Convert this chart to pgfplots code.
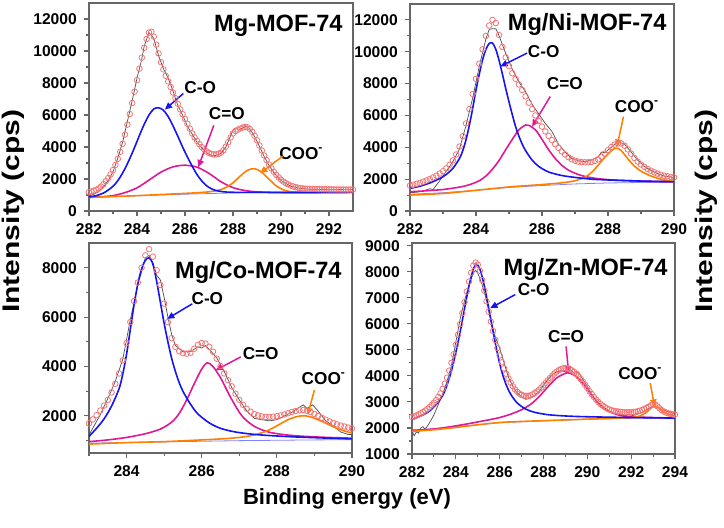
\documentclass[border=0pt]{standalone}
\usepackage{pgfplots}
\pgfplotsset{compat=1.18}
\usepackage{fontspec}
\setmainfont{Liberation Sans}
\usetikzlibrary{arrows.meta}
\definecolor{cblue}{RGB}{20,20,245}
\definecolor{cmag}{RGB}{222,25,150}
\definecolor{corange}{RGB}{255,128,0}
\definecolor{circ}{RGB}{245,115,115}
\definecolor{lav}{RGB}{130,130,255}
\pgfplotsset{
 panel/.style={scale only axis, axis line style={black!60, line width=0.7pt},
   tick style={black!60, line width=0.55pt}, tick align=outside,
   xtick pos=bottom, ytick pos=left, major tick length=2.6pt, minor tick length=1.5pt,
   tick label style={font=\fontsize{7.8}{8}\selectfont\bfseries},
   /pgf/number format/assume math mode=true, /pgf/number format/1000 sep={},
   scaled ticks=false, clip=true, minor x tick num=1},
 raw/.style={black!70, line width=0.35pt, no marks},
 env/.style={only marks, mark=o, mark size=1.4pt, mark options={draw=circ, line width=0.4pt}},
 comp/.style={line width=0.8pt, no marks, smooth, tension=0.5},
 base/.style={lav, line width=0.4pt, no marks},
}
\tikzset{ann/.style={font=\fontsize{8.6}{10}\selectfont\bfseries, inner sep=0pt},
  ttl/.style={font=\fontsize{11.8}{13}\selectfont\bfseries, inner sep=0pt, anchor=base east},
  arr/.style={line width=0.75pt, -{Triangle[length=3.6pt,width=3.2pt]}}}
\begin{document}
\begin{tikzpicture}
\path[use as bounding box] (0,0) rectangle (362pt,263.5pt);
% ---------------- Panel 1 ----------------
\begin{axis}[panel, at={(44.5pt,158pt)}, anchor=south west, width=132pt, height=104pt,
  xmin=282, xmax=293, ymin=0, ymax=13000, xtick={282,284,...,292},
  ytick={0,2000,...,12000}, minor y tick num=1]
\addplot[raw] coordinates {(282.0,950)(282.2,1050)(282.4,1200)(282.6,1500)(282.8,1900)(283.0,2450)(283.2,3300)(283.4,4300)(283.6,5600)(283.8,6900)(284.0,8300)(284.2,9500)(284.3,10300)(284.5,11150)(284.7,10800)(284.9,9700)(285.1,8900)(285.3,8300)(285.5,7500)(285.7,6600)(285.9,6000)(286.1,5300)(286.3,4800)(286.5,4300)(286.7,3950)(286.9,3650)(287.1,3480)(287.3,3470)(287.5,3600)(287.7,4000)(287.9,4700)(288.0,5050)(288.1,5150)(288.3,5100)(288.5,5300)(288.7,5150)(288.9,4650)(289.1,4050)(289.3,3400)(289.5,2850)(289.7,2400)(289.9,2050)(290.1,1800)(290.4,1550)(290.8,1420)(291.2,1360)(291.6,1350)(292.0,1330)(292.5,1340)(293.0,1330)};
\addplot[env] coordinates {(282.0,1180)(282.1,1220)(282.2,1270)(282.3,1330)(282.4,1420)(282.5,1530)(282.6,1680)(282.7,1860)(282.8,2060)(282.9,2290)(283.0,2560)(283.1,2880)(283.2,3260)(283.3,3700)(283.4,4200)(283.5,4780)(283.6,5400)(283.7,6060)(283.8,6750)(283.9,7460)(284.0,8180)(284.1,8900)(284.2,9580)(284.3,10200)(284.4,10750)(284.5,11150)(284.6,11200)(284.7,10900)(284.8,10400)(284.9,9850)(285.0,9300)(285.1,8850)(285.2,8450)(285.3,8100)(285.4,7750)(285.5,7400)(285.6,7050)(285.7,6700)(285.8,6350)(285.9,6050)(286.0,5750)(286.1,5450)(286.2,5150)(286.3,4850)(286.4,4600)(286.5,4380)(286.6,4180)(286.7,4000)(286.8,3850)(286.9,3720)(287.0,3630)(287.1,3570)(287.2,3540)(287.3,3540)(287.4,3570)(287.5,3650)(287.6,3800)(287.7,4020)(287.8,4300)(287.9,4600)(288.0,4850)(288.1,5000)(288.2,5080)(288.3,5150)(288.4,5220)(288.5,5250)(288.6,5230)(288.7,5130)(288.8,4950)(288.9,4700)(289.0,4420)(289.1,4100)(289.2,3780)(289.3,3470)(289.4,3180)(289.5,2910)(289.6,2670)(289.7,2450)(289.8,2260)(289.9,2100)(290.0,1960)(290.1,1840)(290.2,1740)(290.3,1660)(290.4,1590)(290.5,1540)(290.6,1490)(290.7,1460)(290.8,1430)(290.9,1410)(291.0,1395)(291.1,1390)(291.2,1385)(291.3,1380)(291.4,1375)(291.5,1370)(291.6,1365)(291.7,1360)(291.8,1358)(291.9,1355)(292.0,1352)(292.1,1350)(292.2,1348)(292.3,1346)(292.4,1345)(292.5,1344)(292.6,1343)(292.7,1342)(292.8,1341)(292.9,1340)(293.0,1340)};
\addplot[base] coordinates {(282,870)(284,950)(286,1050)(288,1130)(290,1160)(293,1160)};
\addplot[comp, cmag] coordinates {(282.0,850)(282.5,890)(283.0,960)(283.5,1150)(284.0,1450)(284.5,1930)(285.0,2430)(285.5,2760)(286.0,2860)(286.5,2740)(287.0,2350)(287.5,1830)(288.0,1460)(288.5,1280)(289.0,1200)(290.0,1160)(293.0,1160)};
\addplot[comp, corange] coordinates {(282.0,850)(283.0,900)(284.0,960)(285.0,1030)(286.0,1100)(286.5,1140)(287.0,1200)(287.4,1300)(287.7,1470)(288.0,1760)(288.3,2180)(288.6,2540)(288.9,2650)(289.2,2420)(289.5,1990)(289.8,1570)(290.1,1320)(290.4,1210)(290.8,1170)(291.5,1160)(293.0,1160)};
\addplot[comp, cblue] coordinates {(282.0,880)(282.3,960)(282.6,1120)(282.9,1420)(283.1,1700)(283.3,2120)(283.5,2650)(283.7,3280)(283.9,3980)(284.1,4720)(284.3,5420)(284.5,6000)(284.7,6380)(284.9,6450)(285.1,6300)(285.3,5900)(285.5,5320)(285.7,4680)(285.9,4000)(286.1,3380)(286.3,2800)(286.5,2280)(286.7,1880)(286.9,1580)(287.1,1390)(287.3,1280)(287.6,1200)(288.0,1170)(289.0,1160)(293.0,1160)};
\node[ttl] at (rel axis cs:0.962,0.861) {Mg-MOF-74};
\node[ann] at (axis cs:286.63,7710) {C-O};
\draw[arr, cblue] (axis cs:285.93,7340) -- (axis cs:285.16,6340);
\node[ann] at (axis cs:287.74,6090) {C=O};
\draw[arr, cmag] (axis cs:287.2,5350) -- (axis cs:286.55,2740);
\node[ann] at (axis cs:290.85,3600) {COO\textsuperscript{-}};
\draw[arr, corange] (axis cs:290.07,3420) -- (axis cs:289.13,2360);
\end{axis}
% ---------------- Panel 2 ----------------
\begin{axis}[panel, at={(205pt,158pt)}, anchor=south west, width=132pt, height=103.5pt,
  xmin=282, xmax=290, ymin=0, ymax=13000, xtick={282,284,...,290},
  ytick={0,2000,...,12000}, minor y tick num=1]
\addplot[raw] coordinates {(282.0,1150)(282.2,1180)(282.4,1250)(282.6,1400)(282.7,1350)(282.9,1900)(283.1,2500)(283.3,3100)(283.5,3900)(283.7,5400)(283.9,7100)(284.1,9100)(284.3,10800)(284.4,11400)(284.5,11450)(284.6,11450)(284.7,11000)(284.9,9900)(285.1,8900)(285.3,8100)(285.5,7500)(285.7,6700)(285.9,6100)(286.1,5500)(286.3,5000)(286.5,4200)(286.7,3700)(286.9,3300)(287.1,3150)(287.3,3100)(287.5,3200)(287.7,3400)(287.8,3700)(287.9,3650)(288.1,4000)(288.3,4350)(288.5,4200)(288.7,3700)(288.9,3200)(289.1,2800)(289.3,2550)(289.5,2350)(289.7,2200)(290.0,2100)};
\addplot[env] coordinates {(282.0,1600)(282.1,1650)(282.2,1710)(282.3,1770)(282.4,1840)(282.5,1920)(282.6,2010)(282.7,2110)(282.8,2220)(282.9,2350)(283.0,2500)(283.1,2680)(283.2,2900)(283.3,3180)(283.4,3550)(283.5,4050)(283.6,4700)(283.7,5500)(283.8,6400)(283.9,7350)(284.0,8300)(284.1,9250)(284.2,10150)(284.3,11000)(284.4,11650)(284.5,12000)(284.6,11800)(284.7,11050)(284.8,10300)(284.9,9650)(285.0,9100)(285.1,8650)(285.2,8300)(285.3,7950)(285.4,7600)(285.5,7200)(285.6,6800)(285.7,6400)(285.8,6000)(285.9,5650)(286.0,5300)(286.1,5000)(286.2,4720)(286.3,4460)(286.4,4200)(286.5,3960)(286.6,3740)(286.7,3550)(286.8,3380)(286.9,3250)(287.0,3160)(287.1,3100)(287.2,3070)(287.3,3060)(287.4,3060)(287.5,3080)(287.6,3140)(287.7,3240)(287.8,3400)(287.9,3600)(288.0,3820)(288.1,4020)(288.2,4170)(288.3,4250)(288.4,4240)(288.5,4100)(288.6,3870)(288.7,3600)(288.8,3330)(288.9,3100)(289.0,2920)(289.1,2770)(289.2,2640)(289.3,2530)(289.4,2430)(289.5,2350)(289.6,2280)(289.7,2220)(289.8,2180)(289.9,2140)(290.0,2110)};
\addplot[base] coordinates {(282,1050)(283,1150)(284,1300)(285,1480)(286,1600)(287,1700)(288,1760)(289,1790)(290,1800)};
\addplot[comp, cmag] coordinates {(282.0,1210)(282.5,1270)(283.0,1350)(283.5,1500)(283.8,1650)(284.1,1900)(284.3,2200)(284.5,2630)(284.7,3180)(284.9,3850)(285.1,4500)(285.3,5100)(285.5,5400)(285.6,5380)(285.8,5100)(286.0,4500)(286.2,3850)(286.4,3300)(286.6,2870)(286.8,2570)(287.0,2370)(287.3,2170)(287.7,2030)(288.2,1940)(289.0,1880)(290.0,1840)};
\addplot[comp, corange] coordinates {(282.0,1000)(283.0,1100)(284.0,1300)(285.0,1510)(286.0,1660)(286.6,1770)(287.0,1900)(287.3,2120)(287.5,2420)(287.7,2870)(287.9,3370)(288.1,3780)(288.25,3950)(288.4,3800)(288.6,3280)(288.8,2820)(289.0,2500)(289.3,2200)(289.6,2000)(290.0,1850)};
\addplot[comp, cblue] coordinates {(282.0,1420)(282.3,1560)(282.6,1760)(282.9,2040)(283.1,2300)(283.3,2680)(283.5,3300)(283.6,3800)(283.7,4500)(283.8,5400)(283.9,6450)(284.0,7600)(284.1,8600)(284.2,9500)(284.3,10150)(284.4,10520)(284.5,10550)(284.6,10150)(284.7,9450)(284.8,8600)(284.9,7700)(285.0,6850)(285.1,6050)(285.2,5300)(285.3,4700)(285.4,4200)(285.5,3800)(285.7,3200)(285.9,2800)(286.2,2450)(286.6,2230)(287.0,2110)(287.5,2000)(288.0,1950)(289.0,1880)(290.0,1840)};
\node[ttl] at (rel axis cs:0.973,0.870) {Mg/Ni-MOF-74};
\node[ann] at (axis cs:286.05,10020) {C-O};
\draw[arr, cblue] (axis cs:285.55,9920) -- (axis cs:284.74,9080);
\node[ann] at (axis cs:286.69,8030) {C=O};
\draw[arr, cmag] (axis cs:286.25,7190) -- (axis cs:285.7,5300);
\node[ann] at (axis cs:288.88,6560) {COO\textsuperscript{-}};
\draw[arr, corange] (axis cs:288.47,5930) -- (axis cs:288.27,4040);
\end{axis}
% ---------------- Panel 3 ----------------
\begin{axis}[panel, at={(44.5pt,37pt)}, anchor=south west, width=131.5pt, height=105pt,
  xmin=283, xmax=290, ymin=500, ymax=9000, xtick={284,286,288,290},
  minor xtick={283,285,287,289}, ytick={2000,4000,6000,8000}, minor ytick={1000,3000,5000,7000}]
\addplot[raw] coordinates {(283.0,1230)(283.1,1500)(283.3,2050)(283.5,2700)(283.7,3400)(283.9,4300)(284.1,5900)(284.3,7300)(284.5,8400)(284.6,8500)(284.7,8200)(284.8,7700)(284.9,7500)(285.0,6800)(285.1,6000)(285.2,5300)(285.3,4850)(285.5,4600)(285.7,4600)(285.9,4800)(286.0,4750)(286.1,4850)(286.2,4700)(286.4,4350)(286.6,3800)(286.8,3150)(287.0,2650)(287.2,2200)(287.4,1900)(287.6,1850)(287.8,1800)(288.0,1850)(288.2,2000)(288.4,2150)(288.6,2350)(288.7,2450)(288.8,2300)(288.95,2450)(289.1,2200)(289.3,1800)(289.5,1600)(289.7,1350)(289.9,1250)(290.0,1250)};
\addplot[env] coordinates {(283.0,1700)(283.1,1860)(283.2,2030)(283.3,2220)(283.4,2420)(283.5,2650)(283.6,2950)(283.7,3300)(283.8,3720)(283.9,4250)(284.0,4950)(284.1,5800)(284.2,6650)(284.3,7400)(284.4,8000)(284.5,8500)(284.6,8750)(284.7,8450)(284.8,7900)(284.9,7300)(285.0,6550)(285.1,5800)(285.2,5150)(285.3,4800)(285.4,4620)(285.5,4540)(285.6,4520)(285.7,4560)(285.8,4720)(285.9,4880)(286.0,4950)(286.1,4930)(286.2,4800)(286.3,4600)(286.4,4320)(286.5,4020)(286.6,3720)(286.7,3450)(286.8,3200)(286.9,2900)(287.0,2650)(287.1,2450)(287.2,2290)(287.3,2170)(287.4,2080)(287.5,2020)(287.6,1980)(287.7,1960)(287.8,1960)(287.9,1970)(288.0,1990)(288.1,2020)(288.2,2060)(288.3,2110)(288.4,2160)(288.5,2200)(288.6,2230)(288.7,2240)(288.8,2210)(288.9,2160)(289.0,2080)(289.1,2000)(289.2,1920)(289.3,1850)(289.4,1780)(289.5,1720)(289.6,1660)(289.7,1610)(289.8,1570)(289.9,1530)(290.0,1500)};
\addplot[base] coordinates {(283,900)(285,950)(287,1000)(289,1030)(290,1040)};
\addplot[comp, cmag] coordinates {(283.0,960)(283.5,1030)(284.0,1130)(284.5,1280)(284.9,1470)(285.2,1750)(285.4,2100)(285.6,2650)(285.8,3300)(286.0,3900)(286.15,4150)(286.3,4000)(286.5,3550)(286.7,2950)(286.9,2400)(287.1,1950)(287.4,1580)(287.8,1340)(288.4,1210)(289.2,1140)(290.0,1100)};
\addplot[comp, corange] coordinates {(283.0,860)(284.0,920)(285.0,960)(286.0,1030)(286.8,1100)(287.3,1200)(287.7,1370)(288.0,1600)(288.3,1850)(288.5,1960)(288.7,2010)(288.9,1960)(289.2,1780)(289.5,1560)(289.8,1390)(290.0,1310)};
\addplot[comp, cblue] coordinates {(283.0,1170)(283.2,1500)(283.4,1880)(283.6,2400)(283.8,3100)(283.9,3700)(284.0,4500)(284.1,5500)(284.2,6500)(284.3,7350)(284.4,7950)(284.5,8300)(284.6,8400)(284.7,8150)(284.8,7450)(284.9,6600)(285.0,5750)(285.1,5000)(285.2,4330)(285.3,3800)(285.4,3350)(285.5,3000)(285.7,2480)(285.9,2080)(286.2,1720)(286.5,1500)(286.9,1350)(287.5,1240)(288.5,1150)(290.0,1070)};
\node[ttl] at (rel axis cs:0.962,0.833) {Mg/Co-MOF-74};
\node[ann] at (axis cs:286.15,6740) {C-O};
\draw[arr, cblue] (axis cs:285.75,6540) -- (axis cs:285.08,5930);
\node[ann] at (axis cs:287.57,4530) {C=O};
\draw[arr, cmag] (axis cs:287.04,4390) -- (axis cs:286.37,3850);
\node[ann] at (axis cs:289.25,3520) {COO\textsuperscript{-}};
\draw[arr, corange] (axis cs:289.0,3050) -- (axis cs:288.82,2040);
\end{axis}
% ---------------- Panel 4 ----------------
\begin{axis}[panel, at={(206pt,36.5pt)}, anchor=south west, width=131.5pt, height=105.5pt,
  xmin=282, xmax=294, ymin=1000, ymax=9100, xtick={282,284,...,294},
  ytick={1000,2000,...,9000}, minor y tick num=1]
\addplot[raw] coordinates {(282.0,1900)(282.1,1700)(282.2,1850)(282.3,1800)(282.4,2000)(282.5,2050)(282.6,1950)(282.8,2200)(283.0,2500)(283.2,2900)(283.4,3300)(283.6,3800)(283.8,4400)(284.0,5300)(284.2,6200)(284.4,6900)(284.6,7500)(284.8,7950)(284.9,8050)(285.0,7950)(285.2,7500)(285.4,6900)(285.6,6100)(285.8,5500)(286.0,5050)(286.1,4800)(286.2,4500)(286.4,3950)(286.6,3600)(286.8,3350)(287.0,3200)(287.2,3100)(287.4,3150)(287.6,3250)(287.8,3400)(288.0,3650)(288.2,3850)(288.4,4050)(288.6,4150)(288.8,4200)(289.0,4150)(289.2,4250)(289.4,4100)(289.6,4150)(289.8,3850)(290.0,3600)(290.2,3300)(290.4,3050)(290.6,2900)(290.8,2750)(291.0,2650)(291.3,2550)(291.6,2500)(291.9,2450)(292.2,2500)(292.5,2600)(292.7,2700)(292.9,2800)(293.1,2850)(293.3,2750)(293.6,2650)(294.0,2550)};
\addplot[env] coordinates {(282.0,2420)(282.1,2450)(282.2,2480)(282.3,2520)(282.4,2560)(282.5,2610)(282.6,2670)(282.7,2730)(282.8,2800)(282.9,2880)(283.0,2970)(283.1,3070)(283.2,3190)(283.3,3330)(283.4,3500)(283.5,3700)(283.6,3930)(283.7,4200)(283.8,4500)(283.9,4830)(284.0,5190)(284.1,5580)(284.2,5990)(284.3,6410)(284.4,6830)(284.5,7240)(284.6,7620)(284.7,7960)(284.8,8230)(284.9,8350)(285.0,8270)(285.1,8030)(285.2,7680)(285.3,7270)(285.4,6860)(285.5,6460)(285.6,6080)(285.7,5720)(285.8,5380)(285.9,5070)(286.0,4780)(286.1,4520)(286.2,4290)(286.3,4080)(286.4,3900)(286.5,3740)(286.6,3600)(286.7,3480)(286.8,3390)(286.9,3320)(287.0,3270)(287.1,3240)(287.2,3230)(287.3,3230)(287.4,3250)(287.5,3290)(287.6,3340)(287.7,3400)(287.8,3470)(287.9,3550)(288.0,3640)(288.1,3730)(288.2,3830)(288.3,3920)(288.4,4010)(288.5,4090)(288.6,4160)(288.7,4220)(288.8,4260)(288.9,4290)(289.0,4300)(289.1,4290)(289.2,4260)(289.3,4210)(289.4,4150)(289.5,4070)(289.6,3980)(289.7,3880)(289.8,3770)(289.9,3650)(290.0,3530)(290.1,3410)(290.2,3300)(290.3,3190)(290.4,3090)(290.5,3000)(290.6,2920)(290.7,2860)(290.8,2800)(290.9,2750)(291.0,2710)(291.1,2680)(291.2,2660)(291.3,2640)(291.4,2630)(291.5,2620)(291.6,2610)(291.7,2600)(291.8,2600)(291.9,2600)(292.0,2600)(292.1,2610)(292.2,2620)(292.3,2640)(292.4,2660)(292.5,2690)(292.6,2730)(292.7,2770)(292.8,2820)(292.9,2870)(293.0,2900)(293.1,2890)(293.2,2830)(293.3,2750)(293.4,2680)(293.5,2630)(293.6,2590)(293.7,2560)(293.8,2540)(293.9,2520)(294.0,2510)};
\addplot[base] coordinates {(282,1900)(284,2050)(286,2200)(288,2270)(290,2330)(292,2370)(294,2380)};
\addplot[comp, cmag] coordinates {(282.0,1910)(283.0,1960)(284.0,2080)(285.0,2230)(286.0,2400)(286.6,2560)(287.0,2700)(287.4,2900)(287.8,3200)(288.2,3580)(288.6,3920)(289.0,4100)(289.1,4120)(289.4,4030)(289.8,3720)(290.2,3250)(290.6,2870)(291.0,2630)(291.5,2480)(292.0,2430)(293.0,2400)(294.0,2380)};
\addplot[comp, corange] coordinates {(282.0,1870)(283.0,1930)(284.0,2020)(285.0,2120)(286.0,2210)(287.0,2250)(288.0,2280)(289.0,2310)(290.0,2340)(291.0,2370)(292.0,2400)(292.4,2460)(292.7,2600)(292.9,2760)(293.1,2840)(293.3,2740)(293.5,2610)(293.7,2530)(294.0,2470)};
\addplot[comp, cblue] coordinates {(282.0,2320)(282.5,2500)(282.8,2650)(283.1,2900)(283.4,3250)(283.6,3650)(283.8,4200)(284.0,4900)(284.2,5700)(284.4,6600)(284.6,7450)(284.8,8100)(284.95,8280)(285.1,8100)(285.3,7450)(285.5,6600)(285.7,5700)(285.9,4850)(286.1,4150)(286.3,3650)(286.5,3300)(286.8,2960)(287.2,2720)(287.6,2600)(288.2,2510)(289.0,2460)(290.0,2430)(292.0,2400)(294.0,2380)};
\node[ttl] at (rel axis cs:0.973,0.848) {Mg/Zn-MOF-74};
\node[ann] at (axis cs:287.55,7310) {C-O};
\draw[arr, cblue] (axis cs:286.71,7120) -- (axis cs:285.57,6600);
\node[ann] at (axis cs:289.03,5510) {C=O};
\draw[arr, cmag] (axis cs:289.03,5130) -- (axis cs:289.15,4100);
\node[ann] at (axis cs:292.42,4100) {COO\textsuperscript{-}};
\draw[arr, corange] (axis cs:292.87,3720) -- (axis cs:293.07,2820);
\end{axis}
% ---------------- labels ----------------
\node[rotate=90, inner sep=0pt] at (6.5pt,158pt) {\scalebox{1.25}[1]{\fontsize{12}{14}\selectfont\bfseries Intensity (cps)}};
\node[rotate=90, inner sep=0pt] at (353pt,158pt) {\scalebox{1.25}[1]{\fontsize{12}{14}\selectfont\bfseries Intensity (cps)}};
\node[inner sep=0pt] at (173.5pt,14pt) {\fontsize{11}{13}\selectfont\bfseries Binding energy (eV)};
\end{tikzpicture}
\end{document}
